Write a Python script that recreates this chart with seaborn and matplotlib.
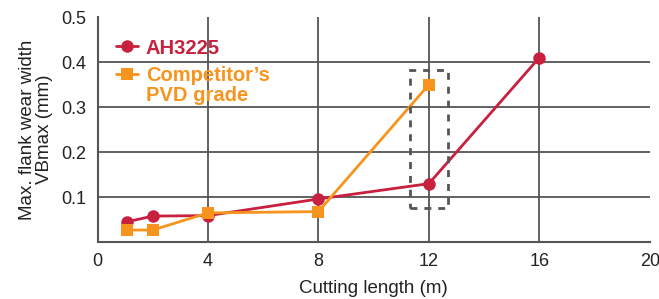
import numpy as np
import pandas as pd
import matplotlib
matplotlib.use('Agg')
import matplotlib.pyplot as plt
import seaborn as sns
from matplotlib.patches import Rectangle

# Data
ah_x = [1.05, 2.0, 4.0, 8.0, 12.0, 16.0]
ah_y = [0.045, 0.058, 0.059, 0.096, 0.130, 0.410]
comp_x = [1.05, 2.0, 4.0, 8.0, 12.0]
comp_y = [0.027, 0.027, 0.065, 0.068, 0.350]
series_names = ['AH3225', 'Competitor\u2019s']
series_sub = 'PVD grade'
x_ticks = [0, 4, 8, 12, 16, 20]
y_ticks = [0.1, 0.2, 0.3, 0.4, 0.5]

red = '#c8203f'
orange = '#f7941d'
grid_col = '#555555'

sns.set_theme(style='white')
plt.rcParams['font.family'] = ['Liberation Sans', 'DejaVu Sans']

df = pd.concat([
    pd.DataFrame({'x': ah_x, 'y': ah_y, 'grade': series_names[0]}),
    pd.DataFrame({'x': comp_x, 'y': comp_y, 'grade': series_names[1]}),
])

fig = plt.figure(figsize=(6.59, 2.99), dpi=100)
ax = fig.add_axes([0.148, 0.19, 0.838, 0.753])

# grid lines
for xv in x_ticks[1:-1]:
    ax.axvline(xv, color=grid_col, lw=1.3, zorder=0)
for yv in y_ticks[:-1]:
    ax.axhline(yv, color=grid_col, lw=1.3, zorder=0)

sns.lineplot(data=df[df.grade == series_names[0]], x='x', y='y', color=red,
             marker='o', markersize=9, markeredgewidth=0, lw=2, ax=ax,
             label=series_names[0], zorder=3)
sns.lineplot(data=df[df.grade == series_names[1]], x='x', y='y', color=orange,
             marker='s', markersize=9, markeredgewidth=0, lw=2, ax=ax,
             label=series_names[1], zorder=3)

# dashed highlight box around 12 m
ax.add_patch(Rectangle((11.3, 0.077), 1.4, 0.305, fill=False, ls=(0, (2.5, 2.5)),
                       lw=2, edgecolor='#555555', zorder=4))

ax.set_xlim(0, 20)
ax.set_ylim(0, 0.5)
ax.set_xticks(x_ticks)
ax.set_xticklabels([str(v) for v in x_ticks])
ax.set_yticks(y_ticks)
ax.set_yticklabels([f'{v:.1f}' for v in y_ticks])
ax.tick_params(length=0, labelsize=13, colors='#222222', pad=8)
ax.set_xlabel('Cutting length (m)', fontsize=13.5, color='#222222', labelpad=7)
ax.set_ylabel('Max. flank wear width\nVBmax (mm)', fontsize=13.5, color='#222222',
              linespacing=1.0, labelpad=6)

for s in ['top', 'right']:
    ax.spines[s].set_visible(False)
for s in ['left', 'bottom']:
    ax.spines[s].set_color(grid_col)
    ax.spines[s].set_linewidth(1.5)

leg = ax.legend(loc='upper left', bbox_to_anchor=(0.0, 0.985), frameon=False,
                handlelength=1.1, handletextpad=0.4, labelspacing=0.4,
                prop={'weight': 'bold', 'size': 14.5}, labelcolor='linecolor')

# second line of the competitor label, under the legend entry
fig.canvas.draw()
bb = leg.get_texts()[1].get_window_extent().transformed(fig.transFigure.inverted())
fig.text(bb.x0, bb.y0 - 0.004, series_sub, color=orange, fontsize=14.5,
         fontweight='bold', ha='left', va='top')

fig.savefig('out.png', dpi=100)
